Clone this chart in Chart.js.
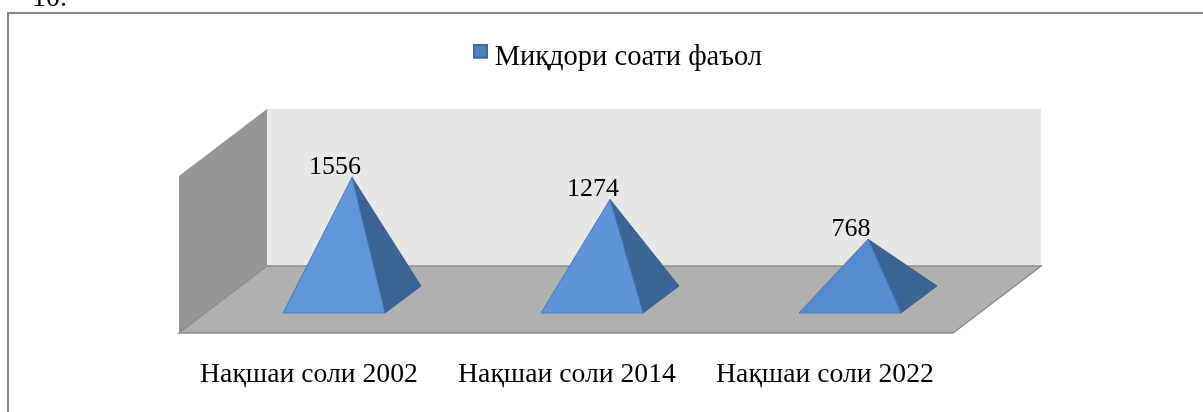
<!DOCTYPE html>
<html><head><meta charset="utf-8">
<style>html,body{margin:0;padding:0;background:#fff}#w{position:relative;width:1203px;height:412px}canvas{display:block}</style>
<script src="https://cdn.jsdelivr.net/npm/chart.js@4"></script></head>
<body><div id="w"><canvas id="c" width="1203" height="412"></canvas></div>
<script>
const categories = ["Нақшаи соли 2002", "Нақшаи соли 2014", "Нақшаи соли 2022"];
const seriesName = "Миқдори соати фаъол";
const values = [1556, 1274, 768];
const faceColors = ["#5f97da", "#5e95d8", "#568cd0"];
const sideColor = "#3c6494";
const edgeColor = "#4a7ab4";
const FONT = '"Liberation Serif","Times New Roman",serif';

const DX = 0.353, DY = -0.265; // depth direction per unit of bar width

class PyramidElement extends Chart.BarElement {
  draw(ctx) {
    const {x, y, base, width} = this.getProps(['x','y','base','width']);
    const hx = width/2, ox = DX*width/2, oy = DY*width/2;
    const fl = [x-hx-ox, base-oy], fr = [x+hx-ox, base-oy], br = [x+hx+ox, base+oy], top = [x, y];
    ctx.save();
    ctx.lineJoin = 'round';
    ctx.lineWidth = 1;
    ctx.strokeStyle = '#39608f';
    ctx.fillStyle = sideColor;
    ctx.beginPath(); ctx.moveTo(...top); ctx.lineTo(...fr); ctx.lineTo(...br); ctx.closePath(); ctx.fill(); ctx.stroke();
    ctx.strokeStyle = edgeColor;
    ctx.fillStyle = this.options.backgroundColor;
    ctx.beginPath(); ctx.moveTo(...top); ctx.lineTo(...fl); ctx.lineTo(...fr); ctx.closePath(); ctx.fill(); ctx.stroke();
    ctx.restore();
  }
}
PyramidElement.id = 'pyramid';
class PyramidController extends Chart.BarController {}
PyramidController.id = 'pyramid3d';
PyramidController.defaults = Object.assign({}, Chart.BarController.defaults, {dataElementType: 'pyramid'});
PyramidController.overrides = Chart.BarController.overrides;
Chart.register(PyramidElement, PyramidController);

function legendSwatch() {
  const c = document.createElement('canvas'); c.width = 15; c.height = 27;
  const g = c.getContext('2d');
  g.fillStyle = '#3f6797'; g.fillRect(0,0,15,15);
  g.fillStyle = '#4f81bd'; g.fillRect(2,2,11,11);
  return c;
}

const scenePlugin = {
  id: 'scene',
  afterLayout(chart) {
    const l = chart.legend;
    l.left += 11; l.right += 11; l.top -= 61; l.bottom -= 61;
  },
  beforeDraw(chart) {
    const {ctx, chartArea: a} = chart;
    const width = a.right - a.left, hgt = a.bottom - a.top;
    const dx = 44, dy = 33.5;
    ctx.save();
    // frame
    ctx.strokeStyle = '#868686'; ctx.lineWidth = 2;
    ctx.beginPath(); ctx.moveTo(8,420); ctx.lineTo(8,13); ctx.lineTo(1204,13); ctx.stroke();
    // page text above the frame
    ctx.fillStyle = '#000'; ctx.font = '28px ' + FONT; ctx.textAlign = 'left'; ctx.textBaseline = 'alphabetic';
    ctx.fillText('10.', 32, 6);
    // back wall
    ctx.fillStyle = '#e7e7e7';
    ctx.fillRect(a.left+dx, a.top-dy, width, hgt);
    // side wall
    ctx.fillStyle = '#969696';
    ctx.beginPath(); ctx.moveTo(a.left-dx, a.top+dy); ctx.lineTo(a.left+dx, a.top-dy); ctx.lineTo(a.left+dx, a.bottom-dy); ctx.lineTo(a.left-dx, a.bottom+dy); ctx.closePath(); ctx.fill();
    // floor
    ctx.fillStyle = '#b0b0b0'; ctx.strokeStyle = '#8c8c8c'; ctx.lineWidth = 1.5;
    ctx.beginPath(); ctx.moveTo(a.left-dx, a.bottom+dy); ctx.lineTo(a.left+dx, a.bottom-dy); ctx.lineTo(a.right+dx, a.bottom-dy); ctx.lineTo(a.right-dx, a.bottom+dy); ctx.closePath(); ctx.fill(); ctx.stroke();
    ctx.restore();
  },
  afterDatasetsDraw(chart) {
    const {ctx} = chart;
    const pts = chart.getDatasetMeta(0).data;
    ctx.save();
    ctx.fillStyle = '#000'; ctx.font = '26px ' + FONT; ctx.textAlign = 'center'; ctx.textBaseline = 'alphabetic';
    pts.forEach((p, i) => ctx.fillText(String(values[i]), p.x - 17, p.y - 3.5));
    ctx.restore();
  }
};

new Chart(document.getElementById('c'), {
  type: 'pyramid3d',
  data: { labels: categories, datasets: [{ label: seriesName, data: values, backgroundColor: faceColors, borderColor: '#3f6797', categoryPercentage: 1, barPercentage: 0.395, clip: false }] },
  plugins: [scenePlugin],
  options: {
    responsive: false, animation: false,
    layout: { padding: { left: 223, right: 206, top: 104, bottom: 0 } },
    plugins: {
      tooltip: {enabled:false},
      legend: { display: true, position: 'top', labels: {
        color: '#000', font: {family: FONT, size: 28.5}, usePointStyle: true, pointStyleWidth: 0.5, padding: 0,
        generateLabels: () => [{text: seriesName, pointStyle: legendSwatch(), fillStyle:'#4f81bd', strokeStyle:'#3f6797', lineWidth:0, datasetIndex:0}]
      }}
    },
    scales: {
      x: { type: 'category', offset: true, grid: {display:false}, border: {display:false},
           ticks: {color:'#000', font:{family:FONT,size:27.7}, labelOffset:-43, padding:51, maxRotation:0, autoSkip:false},
           afterFit(s){ s.height = 112.5; } },
      y: { min: 0, max: 2000, display: false }
    }
  }
});
</script></body></html>
